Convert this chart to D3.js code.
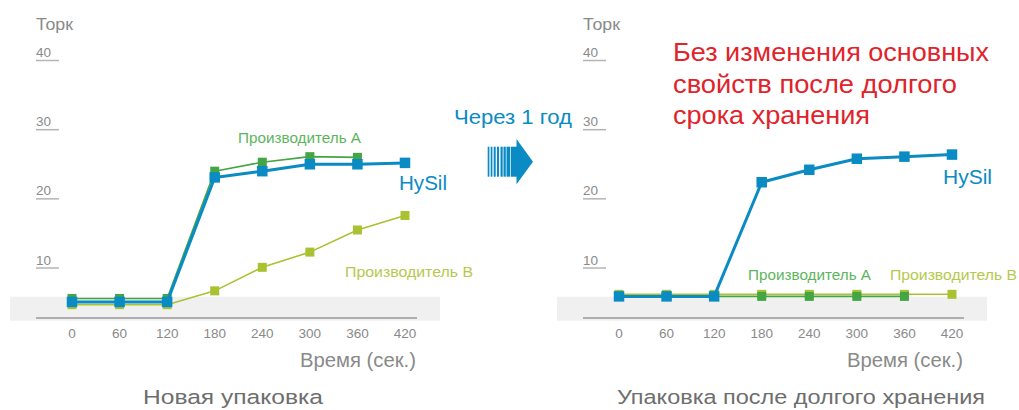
<!DOCTYPE html>
<html>
<head>
<meta charset="utf-8">
<script src="https://cdn.jsdelivr.net/npm/d3@7"></script>
<style>
  html, body { margin: 0; padding: 0; background: #fff; }
  svg { display: block; font-family: "Liberation Sans", Arial, sans-serif; }
</style>
</head>
<body>
<svg id="chart" width="1019" height="410"></svg>
<script>
// ---- Data ----
const times = [0, 60, 120, 180, 240, 300, 360, 420];
const xTickLabels = ["0", "60", "120", "180", "240", "300", "360", "420"];
const yTickValues = [10, 20, 30, 40];
const yTickLabels = ["10", "20", "30", "40"];

const newHySil = [5.1, 5.1, 5.1, 23.1, 24.0, 25.0, 25.0, 25.2];
const newMakerA = [5.6, 5.6, 5.6, 24.0, 25.3, 26.1, 26.0, null];
const newMakerB = [4.7, 4.7, 4.7, 6.7, 10.1, 12.3, 15.5, 17.6];

const oldHySil = [5.9, 5.9, 5.9, 22.4, 24.2, 25.8, 26.1, 26.4];
const oldMakerA = [5.9, 5.9, 5.9, 5.9, 5.9, 5.9, 5.9, null];
const oldMakerB = [6.2, 6.2, 6.2, 6.2, 6.2, 6.2, 6.2, 6.2];

const seriesNames = ["HySil", "Производитель А", "Производитель В"];
const panelTitles = ["Новая упаковка", "Упаковка после долгого хранения"];
const yTitle = "Торк";
const xTitle = "Время (сек.)";
const arrowText = "Через 1 год";
const noteLines = ["Без изменения основных", "свойств после долгого", "срока хранения"];

// ---- Styles ----
const C = {
  hysil: "#0a8bc4", a: "#44a544", b: "#abc132",
  aLabel: "#5cb55c", bLabel: "#b5c94c",
  grid: "#b4b4b4", axis: "#9a9a9a", text: "#8a8a8a", title: "#6e6e6e",
  band: "#f0f0f0", red: "#e1232b"
};

const svg = d3.select("#chart");

function fit(sel, w) {
  if (w) sel.attr("textLength", w).attr("lengthAdjust", "spacingAndGlyphs");
  return sel;
}

function drawPanel(ox, data, labels, titleOpt) {
  const g = svg.append("g").attr("transform", `translate(${ox},0)`);
  const x = d3.scaleLinear().domain([0, 420]).range([72, 405]);
  const y = d3.scaleLinear().domain([0, 40]).range([337.2, 60.5]);

  // gray band + baseline
  g.append("rect").attr("x", 10).attr("y", 296.7).attr("width", 430).attr("height", 24)
    .attr("fill", C.band);
  g.append("line").attr("x1", 36).attr("x2", 417).attr("y1", 318).attr("y2", 318)
    .attr("stroke", C.axis).attr("stroke-width", 1.5);

  // y ticks: label + underline
  const yt = g.selectAll(".yt").data(yTickValues).enter().append("g");
  yt.append("line").attr("x1", 36).attr("x2", 59)
    .attr("y1", d => y(d)).attr("y2", d => y(d))
    .attr("stroke", C.grid).attr("stroke-width", 1.5);
  yt.append("text").attr("x", 36).attr("y", d => y(d) - 3.5)
    .attr("fill", C.text).attr("font-size", 13.5)
    .text((d, i) => yTickLabels[i]);

  fit(g.append("text").attr("x", 36).attr("y", 30).attr("fill", C.text)
    .attr("font-size", 16.5).text(yTitle), 37);

  // x tick labels
  g.selectAll(".xt").data(times).enter().append("text")
    .attr("x", d => x(d)).attr("y", 338).attr("text-anchor", "middle")
    .attr("fill", C.text).attr("font-size", 13.5)
    .text((d, i) => xTickLabels[i]);

  fit(g.append("text").attr("x", 300).attr("y", 367)
    .attr("fill", C.text).attr("font-size", 19.5).text(xTitle), 116);

  fit(g.append("text").attr("x", titleOpt.x).attr("y", 404)
    .attr("fill", C.title).attr("font-size", 20.5).text(titleOpt.text), titleOpt.w);

  // series
  const series = [
    { vals: data.b, color: C.b, width: 1.6, size: 9 },
    { vals: data.a, color: C.a, width: 1.6, size: 9 },
    { vals: data.h, color: C.hysil, width: 3, size: 10.5 }
  ];
  series.forEach(s => {
    const pts = times.map((t, i) => [t, s.vals[i]]).filter(p => p[1] != null);
    const line = d3.line().x(p => x(p[0])).y(p => y(p[1]));
    g.append("path").attr("d", line(pts)).attr("fill", "none")
      .attr("stroke", s.color).attr("stroke-width", s.width)
      .attr("stroke-linejoin", "round");
    g.selectAll(null).data(pts).enter().append("rect")
      .attr("x", p => x(p[0]) - s.size / 2).attr("y", p => y(p[1]) - s.size / 2)
      .attr("width", s.size).attr("height", s.size).attr("fill", s.color);
  });

  // labels
  labels.forEach(l => {
    fit(g.append("text").attr("x", l.x).attr("y", l.y).attr("fill", l.color)
      .attr("font-size", l.size).text(l.text), l.w);
  });
  return g;
}

drawPanel(0, { h: newHySil, a: newMakerA, b: newMakerB }, [
  { text: seriesNames[1], x: 238, y: 143, color: C.aLabel, size: 15, w: 123 },
  { text: seriesNames[0], x: 399, y: 190, color: C.hysil, size: 20, w: 48 },
  { text: seriesNames[2], x: 345, y: 277, color: C.bLabel, size: 15, w: 128 }
], { text: panelTitles[0], x: 143, w: 180 });

drawPanel(547, { h: oldHySil, a: oldMakerA, b: oldMakerB }, [
  { text: seriesNames[1], x: 748 - 547, y: 280, color: C.aLabel, size: 15, w: 123 },
  { text: seriesNames[2], x: 890 - 547, y: 280, color: C.bLabel, size: 15, w: 127 },
  { text: seriesNames[0], x: 943 - 547, y: 184, color: C.hysil, size: 20, w: 49 }
], { text: panelTitles[1], x: 617 - 547, w: 368 });

// arrow text
fit(svg.append("text").attr("x", 454).attr("y", 124).attr("fill", C.hysil)
  .attr("font-size", 21).text(arrowText), 118);

// striped arrow
const arrow = svg.append("g").attr("fill", C.hysil);
const stripes = [[487.7, 1.7], [490.7, 1.7], [493.7, 2], [497, 2], [500.5, 2.2], [503.5, 2.3]];
stripes.forEach(s => arrow.append("rect").attr("x", s[0]).attr("y", 146.7)
  .attr("width", s[1]).attr("height", 30));
arrow.append("rect").attr("x", 506.5).attr("y", 146.7).attr("width", 3.8).attr("height", 30);
arrow.append("rect").attr("x", 511).attr("y", 146.7).attr("width", 6).attr("height", 30);
arrow.append("path").attr("d", "M516.5,139 L533,161.7 L516.5,184.3 Z");

// red note
const noteWidths = [316, 284, 197];
svg.append("g").selectAll("text").data(noteLines).enter().append("text")
  .attr("x", 673).attr("y", (d, i) => 61 + i * 31.6)
  .attr("fill", C.red).attr("font-size", 26)
  .attr("textLength", (d, i) => noteWidths[i]).attr("lengthAdjust", "spacingAndGlyphs")
  .text(d => d);
</script>
</body>
</html>
